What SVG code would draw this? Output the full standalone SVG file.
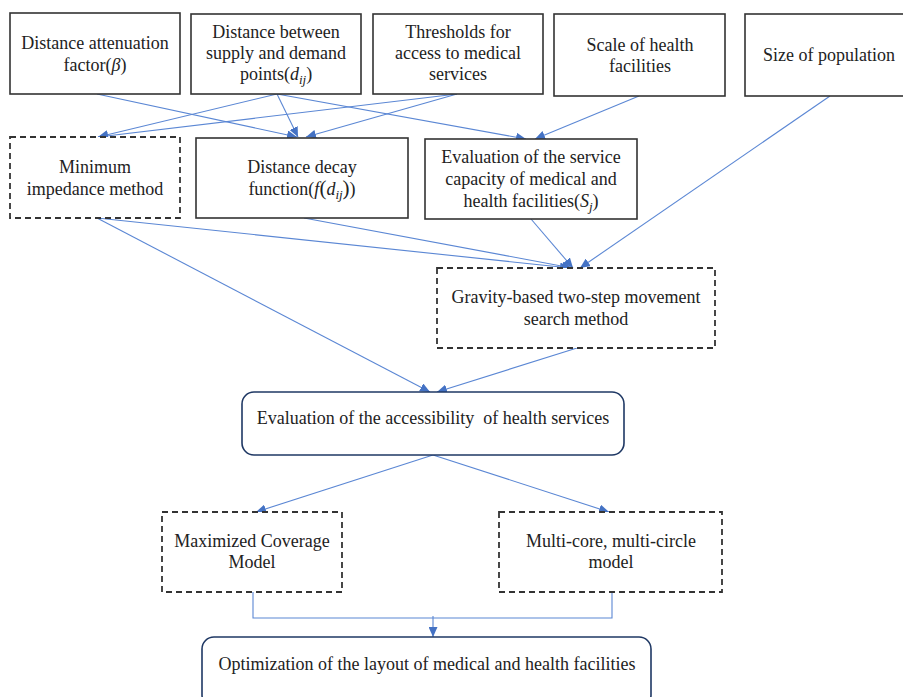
<svg xmlns="http://www.w3.org/2000/svg" width="903" height="697" viewBox="0 0 903 697" font-family="'Liberation Serif', 'DejaVu Serif', serif">
<style>
text{font-family:'Liberation Serif','DejaVu Serif',serif;font-size:18px;fill:#222;text-anchor:middle}
.solid{fill:#fff;stroke:#333;stroke-width:1.6}
.dash{fill:#fff;stroke:#333;stroke-width:1.8;stroke-dasharray:6 4}
.round{fill:#fff;stroke:#1F3864;stroke-width:1.6}
.c{fill:none;stroke:#5B87D4;stroke-width:1.1}
.i{font-style:italic}
</style>
<defs>
<marker id="ah" markerUnits="userSpaceOnUse" markerWidth="11" markerHeight="9" refX="10" refY="4.5" orient="auto">
<path d="M0,0 L10,4.5 L0,9 z" fill="#4472C4"/>
</marker>
</defs>
<g id="connectors">
<line class="c" x1="97" y1="94" x2="297" y2="137" marker-end="url(#ah)"/>
<line class="c" x1="277" y1="94" x2="98" y2="137" marker-end="url(#ah)"/>
<line class="c" x1="277" y1="94" x2="298" y2="137" marker-end="url(#ah)"/>
<line class="c" x1="277" y1="94" x2="526" y2="139" marker-end="url(#ah)"/>
<line class="c" x1="457" y1="94" x2="98" y2="137" marker-end="url(#ah)"/>
<line class="c" x1="457" y1="94" x2="306" y2="137" marker-end="url(#ah)"/>
<line class="c" x1="639" y1="96" x2="535" y2="139" marker-end="url(#ah)"/>
<line class="c" x1="830" y1="96" x2="580" y2="268" marker-end="url(#ah)"/>
<line class="c" x1="97" y1="218" x2="570" y2="268" marker-end="url(#ah)"/>
<line class="c" x1="304" y1="218" x2="572" y2="268" marker-end="url(#ah)"/>
<line class="c" x1="531" y1="219" x2="573" y2="268" marker-end="url(#ah)"/>
<line class="c" x1="97" y1="218" x2="430" y2="392" marker-end="url(#ah)"/>
<line class="c" x1="577" y1="348" x2="437" y2="392" marker-end="url(#ah)"/>
<line class="c" x1="433" y1="455" x2="256" y2="512" marker-end="url(#ah)"/>
<line class="c" x1="433" y1="455" x2="609" y2="512" marker-end="url(#ah)"/>
<polyline class="c" points="253,592 253,618 612,618 612,592"/>
<line class="c" x1="433" y1="616" x2="433" y2="637" marker-end="url(#ah)"/>
</g>
<g id="n_beta">
<rect class="solid" x="10" y="13" width="170" height="81"/>
<text x="95" y="49">Distance attenuation</text>
<text x="95" y="71">factor(<tspan class="i">β</tspan>)</text>
</g>
<g id="n_dij">
<rect class="solid" x="191" y="14" width="170" height="80"/>
<text x="276" y="38">Distance between</text>
<text x="276" y="59">supply and demand</text>
<text x="276" y="80">points(<tspan class="i">d</tspan><tspan class="i" font-size="13" dy="4">ij</tspan><tspan dy="-4">)</tspan></text>
</g>
<g id="n_thresh">
<rect class="solid" x="373" y="14" width="170" height="80"/>
<text x="458" y="38">Thresholds for</text>
<text x="458" y="59">access to medical</text>
<text x="458" y="80">services</text>
</g>
<g id="n_scale">
<rect class="solid" x="554" y="14" width="171" height="82"/>
<text x="640" y="51">Scale of health</text>
<text x="640" y="72">facilities</text>
</g>
<g id="n_pop">
<rect class="solid" x="745" y="14" width="165" height="82"/>
<text x="829" y="61">Size of population</text>
</g>
<g id="n_minimp">
<rect class="dash" x="10" y="137" width="170" height="81"/>
<text x="95" y="173">Minimum</text>
<text x="95" y="195">impedance method</text>
</g>
<g id="n_decay">
<rect class="solid" x="196" y="138" width="212" height="80"/>
<text x="302" y="173">Distance decay</text>
<text x="302" y="195">function(<tspan class="i">f</tspan><tspan font-size="21">(</tspan><tspan class="i">d</tspan><tspan class="i" font-size="13" dy="4">ij</tspan><tspan dy="-4" font-size="21">)</tspan>)</text>
</g>
<g id="n_service">
<rect class="solid" x="425" y="139" width="212" height="80"/>
<text x="531" y="163">Evaluation of the service</text>
<text x="531" y="185">capacity of medical and</text>
<text x="531" y="207">health facilities(<tspan class="i">S</tspan><tspan class="i" font-size="13" dy="4">j</tspan><tspan dy="-4">)</tspan></text>
</g>
<g id="n_gravity">
<rect class="dash" x="437" y="268" width="278" height="80"/>
<text x="576" y="303">Gravity-based two-step movement</text>
<text x="576" y="325">search method</text>
</g>
<g id="n_access">
<rect class="round" x="242" y="392" width="382" height="63" rx="12"/>
<text x="433" y="424" xml:space="preserve" style="white-space:pre">Evaluation of the accessibility  of health services</text>
</g>
<g id="n_maxcov">
<rect class="dash" x="162" y="512" width="180" height="80"/>
<text x="252" y="547">Maximized Coverage</text>
<text x="252" y="568">Model</text>
</g>
<g id="n_multi">
<rect class="dash" x="499" y="512" width="223" height="80"/>
<text x="611" y="547">Multi-core, multi-circle</text>
<text x="611" y="568">model</text>
</g>
<g id="n_opt">
<rect class="round" x="202" y="637" width="449" height="70" rx="12"/>
<text x="427" y="670">Optimization of the layout of medical and health facilities</text>
</g>
</svg>
